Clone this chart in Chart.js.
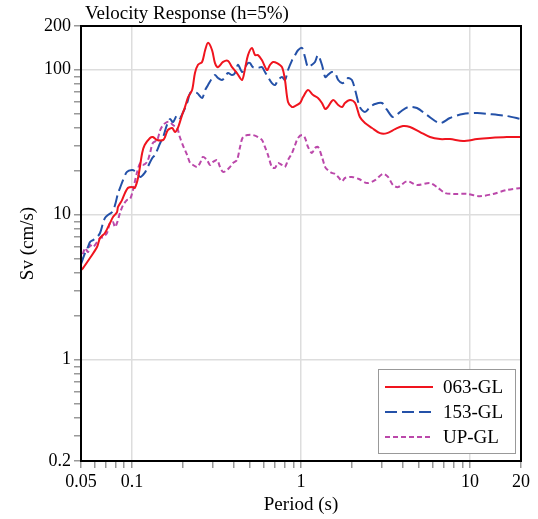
<!DOCTYPE html>
<html>
<head>
<meta charset="utf-8">
<script src="https://cdn.jsdelivr.net/npm/chart.js@4.4.0/dist/chart.umd.min.js"></script>
<style>
  body { margin: 0; background: #fff; }
  #wrap { width: 538px; height: 519px; }
</style>
</head>
<body>
<div id="wrap"><canvas id="svChart" width="538" height="519"></canvas></div>
<script>
// 063-GL
const redPeriod = [0.05, 0.0514, 0.0565, 0.0622, 0.0648, 0.0693, 0.0742, 0.0773, 0.0816, 0.0828, 0.0874, 0.091, 0.0948, 0.1002, 0.104, 0.109, 0.115, 0.119, 0.128, 0.133, 0.141, 0.153, 0.157, 0.163, 0.173, 0.18, 0.187, 0.198, 0.206, 0.215, 0.227, 0.236, 0.246, 0.26, 0.271, 0.282, 0.298, 0.31, 0.323, 0.346, 0.37, 0.391, 0.418, 0.448, 0.467, 0.486, 0.513, 0.535, 0.557, 0.588, 0.629, 0.656, 0.683, 0.721, 0.772, 0.804, 0.838, 0.885, 0.922, 0.987, 1.028, 1.1, 1.18, 1.26, 1.33, 1.39, 1.44, 1.55, 1.66, 1.75, 1.82, 1.95, 2.09, 2.23, 2.39, 2.63, 2.93, 3.23, 3.6, 4.01, 4.41, 5.06, 5.79, 6.64, 7.6, 9.08, 11.0, 13.1, 16.5, 20];
const redSv = [4.15, 4.28, 5.02, 5.98, 6.9, 7.47, 8.75, 9.63, 10.4, 11.3, 12.6, 14.1, 15.3, 15.5, 15.3, 18.2, 26.6, 30.2, 33.8, 34.3, 32.7, 32.7, 34.3, 38.3, 39.6, 37.1, 39.6, 48.6, 55.2, 64.7, 72.3, 94.8, 108, 113, 136, 153, 136, 111, 104, 113, 115, 104, 94.8, 84.8, 102, 126, 141, 126, 126, 116, 99.4, 108, 113, 111, 104, 84.8, 59.8, 55.2, 56.1, 58.9, 64.7, 72.3, 66.8, 63.7, 58.9, 53.5, 55.2, 61.7, 57.0, 55.2, 58.9, 61.7, 58.9, 47.1, 42.8, 39.6, 36.5, 36.5, 38.9, 40.8, 40.2, 37.1, 34.3, 33.2, 33.2, 32.2, 33.2, 33.8, 34.3, 34.3];

// 153-GL
const bluePeriod = [0.05, 0.0528, 0.055, 0.0565, 0.0589, 0.0622, 0.0648, 0.0675, 0.0693, 0.0722, 0.0762, 0.0794, 0.0828, 0.0851, 0.0886, 0.0935, 0.1002, 0.104, 0.107, 0.112, 0.119, 0.124, 0.132, 0.137, 0.147, 0.153, 0.161, 0.168, 0.175, 0.185, 0.192, 0.2, 0.212, 0.221, 0.23, 0.243, 0.26, 0.271, 0.282, 0.298, 0.31, 0.323, 0.341, 0.355, 0.37, 0.391, 0.407, 0.424, 0.448, 0.467, 0.486, 0.499, 0.52, 0.557, 0.588, 0.612, 0.638, 0.673, 0.702, 0.731, 0.772, 0.804, 0.838, 0.885, 0.922, 0.96, 1.014, 1.056, 1.1, 1.16, 1.21, 1.26, 1.33, 1.39, 1.44, 1.52, 1.59, 1.66, 1.75, 1.82, 1.9, 2.0, 2.09, 2.23, 2.39, 2.56, 2.74, 3.01, 3.23, 3.5, 3.85, 4.3, 4.85, 5.56, 6.64, 7.6, 9.08, 11.0, 13.1, 16.5, 20];
const blueSv = [4.56, 5.43, 5.98, 6.47, 6.68, 7.0, 7.47, 8.75, 9.47, 9.94, 10.4, 11.6, 14.1, 15.3, 17.3, 19.7, 20.3, 20.0, 19.4, 18.2, 19.4, 21.3, 24.6, 25.8, 31.2, 34.3, 41.5, 45.6, 43.5, 48.6, 46.4, 50.2, 58.9, 69.0, 70.1, 69.0, 63.7, 72.3, 78.3, 87.5, 91.8, 87.5, 84.8, 88.9, 94.8, 91.8, 94.8, 108, 96.3, 104, 111, 111, 104, 103, 104, 96.3, 88.9, 80.8, 78.3, 84.8, 88.9, 84.8, 99.4, 116, 126, 136, 141, 122, 104, 108, 113, 126, 108, 88.9, 91.8, 96.3, 94.8, 84.8, 80.8, 82.1, 87.5, 84.8, 72.3, 55.2, 51.0, 55.2, 57.9, 58.9, 52.7, 47.1, 51.0, 55.2, 54.4, 48.6, 42.8, 46.4, 49.4, 50.2, 49.4, 47.9, 45.6];

// UP-GL
const upPeriod = [0.05, 0.0528, 0.055, 0.0565, 0.0589, 0.0622, 0.0648, 0.0675, 0.0712, 0.0742, 0.0773, 0.0794, 0.0816, 0.0851, 0.0886, 0.0935, 0.0975, 0.1015, 0.107, 0.112, 0.116, 0.123, 0.128, 0.133, 0.141, 0.147, 0.153, 0.161, 0.168, 0.175, 0.185, 0.192, 0.2, 0.212, 0.221, 0.23, 0.243, 0.253, 0.263, 0.278, 0.29, 0.302, 0.319, 0.332, 0.346, 0.365, 0.38, 0.396, 0.418, 0.436, 0.454, 0.486, 0.52, 0.557, 0.588, 0.612, 0.638, 0.673, 0.702, 0.731, 0.772, 0.804, 0.838, 0.885, 0.922, 0.96, 1.014, 1.056, 1.1, 1.16, 1.21, 1.26, 1.33, 1.39, 1.44, 1.52, 1.59, 1.66, 1.75, 1.82, 2.0, 2.2, 2.46, 2.74, 3.05, 3.27, 3.5, 3.75, 4.24, 4.85, 5.79, 6.37, 7.11, 7.93, 9.59, 11.4, 13.7, 16.5, 20];
const upSv = [4.71, 5.88, 5.52, 6.17, 5.98, 6.47, 6.9, 7.0, 7.47, 8.75, 8.89, 8.21, 8.75, 10.3, 11.6, 12.6, 12.8, 14.8, 19.4, 22.7, 22.0, 23.1, 26.6, 31.2, 32.7, 38.3, 41.5, 43.5, 43.5, 41.5, 39.6, 34.3, 30.2, 25.8, 22.7, 22.0, 21.3, 22.7, 25.0, 23.8, 22.0, 23.1, 23.8, 21.3, 19.7, 20.3, 21.3, 22.7, 23.8, 29.3, 34.3, 35.4, 35.4, 34.3, 32.7, 29.3, 25.8, 21.3, 21.0, 22.7, 22.0, 21.3, 23.8, 26.6, 30.2, 33.8, 35.4, 33.8, 29.3, 26.6, 28.8, 29.3, 25.0, 21.3, 20.3, 19.4, 19.1, 18.2, 17.0, 17.9, 18.2, 17.6, 16.5, 17.3, 19.1, 18.2, 16.0, 15.5, 17.0, 16.0, 16.5, 15.5, 14.1, 13.9, 13.9, 13.4, 13.9, 14.8, 15.3];

const xTicks = [0.05, 0.06, 0.07, 0.08, 0.09, 0.1, 0.2, 0.3, 0.4, 0.5, 0.6, 0.7, 0.8, 0.9, 1, 2, 3, 4, 5, 6, 7, 8, 9, 10, 20];
const xLabels = [0.05, 0.1, 1, 10, 20];
const xGrid = [0.1, 1, 10];
const yTicks = [0.2, 0.3, 0.4, 0.5, 0.6, 0.7, 0.8, 0.9, 1, 2, 3, 4, 5, 6, 7, 8, 9, 10, 20, 30, 40, 50, 60, 70, 80, 90, 100, 200];
const yLabels = [0.2, 1, 10, 100, 200];
const yGrid = [1, 10, 100];

const seriesNames = ['063-GL', '153-GL', 'UP-GL'];
const seriesColors = ['#f0141e', '#2451a8', '#bb48aa'];
const seriesDash = [[], [12, 5], [5, 3]];

const FONT = '"Liberation Serif", "Times New Roman", serif';

function pairs(px, py) {
    return px.map((p, i) => ({ x: p, y: py[i] }));
}

function near(list, v) {
    return list.some(t => Math.abs(t - v) / t < 1e-6);
}

const frameAndLegend = {
    id: 'frameAndLegend',
    afterDatasetsDraw(chart) {
        const c = chart.ctx;
        const a = chart.chartArea;
        c.save();
        // frame
        c.strokeStyle = '#000';
        c.lineWidth = 2;
        c.strokeRect(a.left, a.top, a.right - a.left, a.bottom - a.top);

        // legend
        c.fillStyle = '#fff';
        c.fillRect(378, 369, 138, 85);
        c.strokeStyle = '#999';
        c.lineWidth = 1;
        c.strokeRect(378.5, 369.5, 137, 84);
        c.font = '19px ' + FONT;
        c.textBaseline = 'middle';
        c.textAlign = 'left';
        for (let i = 0; i < seriesNames.length; i++) {
            const y = 387 + i * 25;
            c.beginPath();
            c.setLineDash(seriesDash[i]);
            c.strokeStyle = seriesColors[i];
            c.lineWidth = 2;
            c.moveTo(385, y);
            c.lineTo(433, y);
            c.stroke();
            c.setLineDash([]);
            c.fillStyle = '#000';
            c.fillText(seriesNames[i], 443, y + 1);
        }

        // title
        c.font = '19px ' + FONT;
        c.textBaseline = 'alphabetic';
        c.fillStyle = '#000';
        c.fillText('Velocity Response (h=5%)', 85, 19);
        c.restore();
    }
};

const ctx = document.getElementById('svChart');
new Chart(ctx.getContext('2d'), {
    type: 'line',
    data: {
        datasets: [
            { label: seriesNames[0], data: pairs(redPeriod, redSv) },
            { label: seriesNames[1], data: pairs(bluePeriod, blueSv) },
            { label: seriesNames[2], data: pairs(upPeriod, upSv) }
        ].map((d, i) => Object.assign(d, {
            borderColor: seriesColors[i],
            borderDash: seriesDash[i],
            borderWidth: 2,
            pointRadius: 0,
            tension: 0.3,
            fill: false
        }))
    },
    options: {
        responsive: false,
        animation: false,
        layout: { padding: { top: 26, right: 17, left: 0, bottom: 0 } },
        plugins: {
            legend: { display: false },
            title: { display: false },
            tooltip: { enabled: false }
        },
        scales: {
            x: {
                type: 'logarithmic',
                min: 0.05,
                max: 20,
                afterBuildTicks: s => { s.ticks = xTicks.map(v => ({ value: v })); },
                afterFit: s => { s.height = 58; },
                border: { display: false },
                grid: {
                    color: c => near(xGrid, c.tick.value) ? '#dddddd' : 'rgba(0,0,0,0)',
                    tickColor: '#999',
                    tickLength: 7,
                    lineWidth: 1.5
                },
                ticks: {
                    autoSkip: false,
                    maxRotation: 0,
                    padding: 3,
                    color: '#000',
                    font: { family: FONT, size: 18 },
                    callback: v => near(xLabels, v) ? String(v) : ''
                },
                title: {
                    display: true,
                    text: 'Period (s)',
                    color: '#000',
                    font: { family: FONT, size: 19 },
                    padding: { top: 4, bottom: 3 }
                }
            },
            y: {
                type: 'logarithmic',
                min: 0.2,
                max: 200,
                afterBuildTicks: s => { s.ticks = yTicks.map(v => ({ value: v })); },
                afterFit: s => { s.width = 81; },
                border: { display: false },
                grid: {
                    color: c => near(yGrid, c.tick.value) ? '#dddddd' : 'rgba(0,0,0,0)',
                    tickColor: '#999',
                    tickLength: 7,
                    lineWidth: 1.5
                },
                ticks: {
                    autoSkip: false,
                    padding: 3,
                    color: '#000',
                    font: { family: FONT, size: 18 },
                    callback: v => near(yLabels, v) ? String(v) : ''
                },
                title: {
                    display: true,
                    text: 'Sv (cm/s)',
                    color: '#000',
                    font: { family: FONT, size: 19 },
                    padding: { top: 17, bottom: 4 }
                }
            }
        }
    },
    plugins: [frameAndLegend]
});
</script>
</body>
</html>
